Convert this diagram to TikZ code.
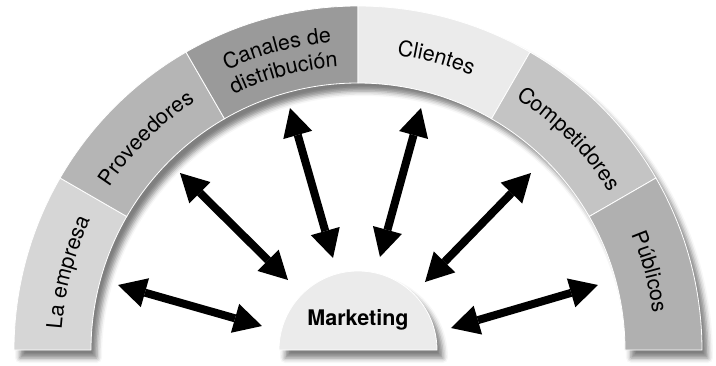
\documentclass[tikz,border=0pt]{standalone}
\usepackage{fontspec}
\setmainfont{TeX Gyre Heros}
\usepackage{xcolor}
\usepackage{tikz}
\usetikzlibrary{arrows.meta,decorations.text,shadows.blur}

\definecolor{empresagray}{HTML}{D6D6D6}
\definecolor{proveedoresgray}{HTML}{B5B5B5}
\definecolor{canalesgray}{HTML}{9A9A9A}
\definecolor{clientesgray}{HTML}{EBEBEB}
\definecolor{competidoresgray}{HTML}{C4C4C4}
\definecolor{publicosgray}{HTML}{B0B0B0}
\definecolor{mktgray}{HTML}{EBEBEB}

\newcommand{\labelfont}{\fontsize{21.5}{25}\selectfont}

\begin{document}
\begin{tikzpicture}[x=1pt, y=1pt,
    segment/.style={draw=white, line width=0.8pt},
    archshadow/.style={blur shadow={shadow xshift=6pt, shadow yshift=-8pt,
        shadow blur radius=5pt, shadow opacity=50}},
    archtext/.style={decorate, decoration={text along path, text align=center,
        text={|\labelfont|#1}}},
    link/.style={line width=8pt, draw=black, fill=black, opacity=1,
        {Triangle[length=28pt,width=30pt,line width=0pt,fill=black]}-{Triangle[length=28pt,width=30pt,line width=0pt,fill=black]}}]
        \useasboundingbox (-358,-15) rectangle (358,350);

        % Shadow of the arch
        \path[archshadow] (180:344) arc[start angle=180, end angle=0, radius=344]
            -- (0:267) arc[start angle=0, end angle=180, radius=267] -- cycle;

        % La empresa
        \path[segment, fill=empresagray] (180:344) arc[start angle=180, end angle=150, radius=344]
            -- (150:267) arc[start angle=150, end angle=180, radius=267] -- cycle;
        \path[archtext={La empresa}] (180:297) arc[start angle=180, end angle=150, radius=297];

        % Proveedores
        \path[segment, fill=proveedoresgray] (150:344) arc[start angle=150, end angle=120, radius=344]
            -- (120:267) arc[start angle=120, end angle=150, radius=267] -- cycle;
        \path[archtext={Proveedores}] (150:297) arc[start angle=150, end angle=120, radius=297];

        % Canales de distribucion
        \path[segment, fill=canalesgray] (120:344) arc[start angle=120, end angle=90, radius=344]
            -- (90:267) arc[start angle=90, end angle=120, radius=267] -- cycle;
        \path[archtext={Canales de}] (120:309) arc[start angle=120, end angle=90, radius=309];
        \path[archtext={distribución}] (120:284) arc[start angle=120, end angle=90, radius=284];

        % Clientes
        \path[segment, fill=clientesgray] (90:344) arc[start angle=90, end angle=60, radius=344]
            -- (60:267) arc[start angle=60, end angle=90, radius=267] -- cycle;
        \path[archtext={Clientes}] (90:297) arc[start angle=90, end angle=60, radius=297];

        % Competidores
        \path[segment, fill=competidoresgray] (60:344) arc[start angle=60, end angle=30, radius=344]
            -- (30:267) arc[start angle=30, end angle=60, radius=267] -- cycle;
        \path[archtext={Competidores}] (60:297) arc[start angle=60, end angle=30, radius=297];

        % Publicos
        \path[segment, fill=publicosgray] (30:344) arc[start angle=30, end angle=0, radius=344]
            -- (0:267) arc[start angle=0, end angle=30, radius=267] -- cycle;
        \path[archtext={Públicos}] (30:297) arc[start angle=30, end angle=0, radius=297];

        % Marketing
        \path[segment, fill=mktgray, archshadow] (-79,0) arc[start angle=180, end angle=0, radius=79] -- cycle;
        \node[font=\labelfont\bfseries] (mkt) at (0,30) {Marketing};

        % Arrow ends
        \coordinate (empresa-out) at (-240,65);
        \coordinate (empresa-in) at (-96,24);
        \coordinate (proveedores-out) at (-178,177);
        \coordinate (proveedores-in) at (-70,70);
        \coordinate (canales-out) at (-68,242);
        \coordinate (canales-in) at (-25,92);
        \coordinate (clientes-out) at (63,242);
        \coordinate (clientes-in) at (22,93);
        \coordinate (competidores-out) at (173,177);
        \coordinate (competidores-in) at (67,68);
        \coordinate (publicos-out) at (240,65);
        \coordinate (publicos-in) at (93,22);

        % Links
        \draw[link] (empresa-out) -- (empresa-in);
        \draw[link] (proveedores-out) -- (proveedores-in);
        \draw[link] (canales-out) -- (canales-in);
        \draw[link] (clientes-out) -- (clientes-in);
        \draw[link] (competidores-out) -- (competidores-in);
        \draw[link] (publicos-out) -- (publicos-in);
    \end{tikzpicture}
\end{document}
